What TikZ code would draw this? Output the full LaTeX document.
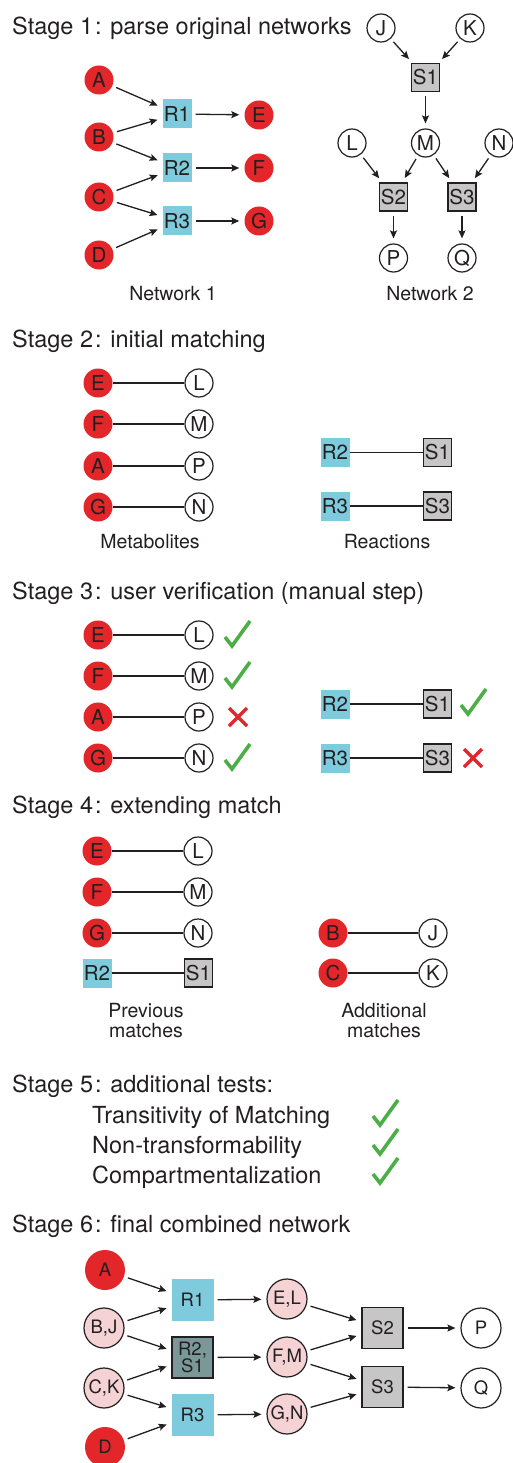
\documentclass[tikz,border=0pt]{standalone}
\usepackage{fontspec}
\setmainfont{TeX Gyre Heros}
\usetikzlibrary{arrows.meta}
\definecolor{ink}{HTML}{231F20}
\definecolor{myred}{HTML}{E2262A}
\definecolor{myblue}{HTML}{7DCBDC}
\definecolor{mygray}{HTML}{C6C6C6}
\definecolor{mypink}{HTML}{F5D3D5}
\definecolor{mydark}{HTML}{7A9898}
\definecolor{mygreen}{HTML}{4BAE47}
\begin{document}
\begin{tikzpicture}[x=1pt,y=-1pt,
  every node/.style={text=ink, inner sep=0pt},
  title/.style={anchor=base west, font=\fontsize{23.5}{28}\selectfont},
  lbl/.style={anchor=base, font=\fontsize{19.5}{20}\selectfont, align=center},
  item/.style={anchor=base west, font=\fontsize{23.5}{28}\selectfont},
  nf/.style={font=\fontsize{20.5}{20}\selectfont},
  redc/.style={circle, fill=myred, minimum size=29pt, nf},
  whc/.style={circle, draw=ink, line width=1.2pt, fill=white, minimum size=28pt, nf},
  bbox/.style={rectangle, fill=myblue, minimum size=29pt, nf},
  gbox/.style={rectangle, draw=ink, line width=1.4pt, fill=mygray, minimum size=28pt, nf},
  bigf/.style={font=\fontsize{18.5}{17.5}\selectfont, align=center},
  redC/.style={circle, fill=myred, minimum size=40pt, bigf},
  pinkC/.style={circle, draw=ink, line width=1.2pt, fill=mypink, minimum size=40pt, bigf},
  whC/.style={circle, draw=ink, line width=1.2pt, fill=white, minimum size=40pt, bigf},
  bBox/.style={rectangle, fill=myblue, minimum size=42pt, bigf},
  gBox/.style={rectangle, draw=ink, line width=1.4pt, fill=mygray, minimum size=41pt, bigf},
  dBox/.style={rectangle, draw=ink, line width=1.4pt, fill=mydark, minimum size=41pt, bigf},
  arr/.style={draw=ink, line width=1.3pt, -{Stealth[length=8pt,width=7pt,inset=1.5pt]}, shorten <=4pt, shorten >=5pt},
  link/.style={draw=ink, line width=1.2pt},
  chk/.pic={\draw[mygreen, line width=3.6pt] (-7,-9) -- (0,0) -- (18,-25);},
  crs/.pic={\draw[myred, line width=3.4pt] (-9,-9) -- (9,9) (-9,9) -- (9,-9);}
]
\useasboundingbox (0,0) rectangle (512,1463);

% ---------- Stage 1
\node[title] (t1) at (12,35) {Stage 1\kern2pt: parse original networks};
\node[redc] (a1) at (99,80) {A};
\node[redc] (b1) at (99,137) {B};
\node[redc] (c1) at (99,197) {C};
\node[redc] (d1) at (99,255) {D};
\node[bbox] (r11) at (177,114) {R1};
\node[bbox] (r21) at (177,168) {R2};
\node[bbox] (r31) at (177,221) {R3};
\node[redc] (e1) at (259,115) {E};
\node[redc] (f1) at (259,168) {F};
\node[redc] (g1) at (259,221) {G};
\draw[arr] (a1) -- (r11);
\draw[arr] (b1) -- (r11);
\draw[arr] (b1) -- (r21);
\draw[arr] (c1) -- (r21);
\draw[arr] (c1) -- (r31);
\draw[arr] (d1) -- (r31);
\draw[arr] (r11) -- (e1);
\draw[arr] (r21) -- (f1);
\draw[arr] (r31) -- (g1);
\node[lbl] (net1) at (173,300) {Network 1};

\node[whc] (j1) at (381,28) {J};
\node[whc] (k1) at (470,28) {K};
\node[gbox] (s11) at (425.5,77.5) {S1};
\node[whc] (l1) at (352,143) {L};
\node[whc] (m1) at (425.5,143) {M};
\node[whc] (n1) at (499,143) {N};
\node[gbox] (s21) at (393.5,197) {S2};
\node[gbox] (s31) at (462,197) {S3};
\node[whc] (p1) at (393.5,258) {P};
\node[whc] (q1) at (462,258) {Q};
\draw[arr] (j1) -- (s11);
\draw[arr] (k1) -- (s11);
\draw[arr] (s11) -- (m1);
\draw[arr] (l1) -- (s21);
\draw[arr] (m1) -- (s21);
\draw[arr] (m1) -- (s31);
\draw[arr] (n1) -- (s31);
\draw[arr] (s21) -- (p1);
\draw[arr] (s31) -- (q1);
\node[lbl] (net2) at (430,300) {Network 2};

% ---------- Stage 2
\node[title] (t2) at (12,347) {Stage 2\kern2pt: initial matching};
\node[redc] (e2) at (98,383) {E};
\node[whc] (l2) at (199,383) {L};
\node[redc] (f2) at (98,424) {F};
\node[whc] (m2) at (199,424) {M};
\node[redc] (a2) at (98,466) {A};
\node[whc] (p2) at (199,466) {P};
\node[redc] (g2) at (98,507) {G};
\node[whc] (n2) at (199,507) {N};
\draw[link] (e2) -- (l2);
\draw[link] (f2) -- (m2);
\draw[link] (a2) -- (p2);
\draw[link] (g2) -- (n2);
\node[bbox] (r22) at (335,452.5) {R2};
\node[gbox] (s12) at (437.5,452.5) {S1};
\node[bbox] (r32) at (335,506) {R3};
\node[gbox] (s32) at (437.5,506) {S3};
\draw[link] (r22) -- (s12);
\draw[link] (r32) -- (s32);
\node[lbl] (met2) at (150,548) {Metabolites};
\node[lbl] (rea2) at (387,548) {Reactions};

% ---------- Stage 3
\node[title] (t3) at (12,599) {Stage 3\kern2pt: user verification (manual step)};
\node[redc] (e3) at (98,635) {E};
\node[whc] (l3) at (199,635) {L};
\node[redc] (f3) at (98,676) {F};
\node[whc] (m3) at (199,676) {M};
\node[redc] (a3) at (98,717) {A};
\node[whc] (p3) at (199,717) {P};
\node[redc] (g3) at (98,758) {G};
\node[whc] (n3) at (199,758) {N};
\draw[link] (e3) -- (l3);
\draw[link] (f3) -- (m3);
\draw[link] (a3) -- (p3);
\draw[link] (g3) -- (n3);
\node[bbox] (r23) at (335,704) {R2};
\node[gbox] (s13) at (437.5,704) {S1};
\node[bbox] (r33) at (335,758) {R3};
\node[gbox] (s33) at (437.5,758) {S3};
\draw[link] (r23) -- (s13);
\draw[link] (r33) -- (s33);
\pic at (232,646) {chk};
\pic at (232,687) {chk};
\pic at (238,717) {crs};
\pic at (232,769) {chk};
\pic at (468,714) {chk};
\pic at (473,758) {crs};

% ---------- Stage 4
\node[title] (t4) at (12,813) {Stage 4\kern2pt: extending match};
\node[redc] (e4) at (97,851) {E};
\node[whc] (l4) at (198,851) {L};
\node[redc] (f4) at (97,892) {F};
\node[whc] (m4) at (198,892) {M};
\node[redc] (g4) at (97,933) {G};
\node[whc] (n4) at (198,933) {N};
\node[bbox] (r24) at (97,973) {R2};
\node[gbox] (s14) at (198.5,973) {S1};
\draw[link] (e4) -- (l4);
\draw[link] (f4) -- (m4);
\draw[link] (g4) -- (n4);
\draw[link] (r24) -- (s14);
\node[redc] (b4) at (333,933) {B};
\node[whc] (j4) at (433,933) {J};
\node[redc] (c4) at (333,973) {C};
\node[whc] (k4) at (433,973) {K};
\draw[link] (b4) -- (j4);
\draw[link] (c4) -- (k4);
\node[lbl] (prev4) at (146,1037) {Previous\\[0pt]matches};
\node[lbl] (add4) at (384,1037) {Additional\\[0pt]matches};

% ---------- Stage 5
\node[title] (t5) at (12,1092) {Stage 5\kern2pt: additional tests:};
\node[item] (i1) at (92,1123) {Transitivity of Matching};
\node[item] (i2) at (92,1153) {Non-transformability};
\node[item] (i3) at (92,1183) {Compartmentalization};
\pic at (380,1125) {chk};
\pic at (380,1154) {chk};
\pic at (380,1183) {chk};

% ---------- Stage 6
\node[title] (t6) at (12,1232) {Stage 6\kern2pt: final combined network};
\node[redC] (a6) at (105,1270) {A};
\node[pinkC] (bj6) at (104,1328) {B,J};
\node[pinkC] (ck6) at (104,1388) {C,K};
\node[redC] (d6) at (105,1447) {D};
\node[bBox] (r16) at (192.5,1300) {R1};
\node[dBox] (rs6) at (192.5,1357.5) {R2,\\S1};
\node[bBox] (r36) at (192.5,1415) {R3};
\node[pinkC] (el6) at (287,1299) {E,L};
\node[pinkC] (fm6) at (287,1357) {F,M};
\node[pinkC] (gn6) at (287,1414) {G,N};
\node[gBox] (s26) at (382.5,1328) {S2};
\node[gBox] (s36) at (382.5,1387) {S3};
\node[whC] (p6) at (481,1328) {P};
\node[whC] (q6) at (481,1388) {Q};
\draw[arr] (a6) -- (r16);
\draw[arr] (bj6) -- (r16);
\draw[arr] (bj6) -- (rs6);
\draw[arr] (ck6) -- (rs6);
\draw[arr] (ck6) -- (r36);
\draw[arr] (d6) -- (r36);
\draw[arr] (r16) -- (el6);
\draw[arr] (rs6) -- (fm6);
\draw[arr] (r36) -- (gn6);
\draw[arr] (el6) -- (s26);
\draw[arr] (fm6) -- (s26);
\draw[arr] (fm6) -- (s36);
\draw[arr] (gn6) -- (s36);
\draw[arr] (s26) -- (p6);
\draw[arr] (s36) -- (q6);
\end{tikzpicture}
\end{document}
